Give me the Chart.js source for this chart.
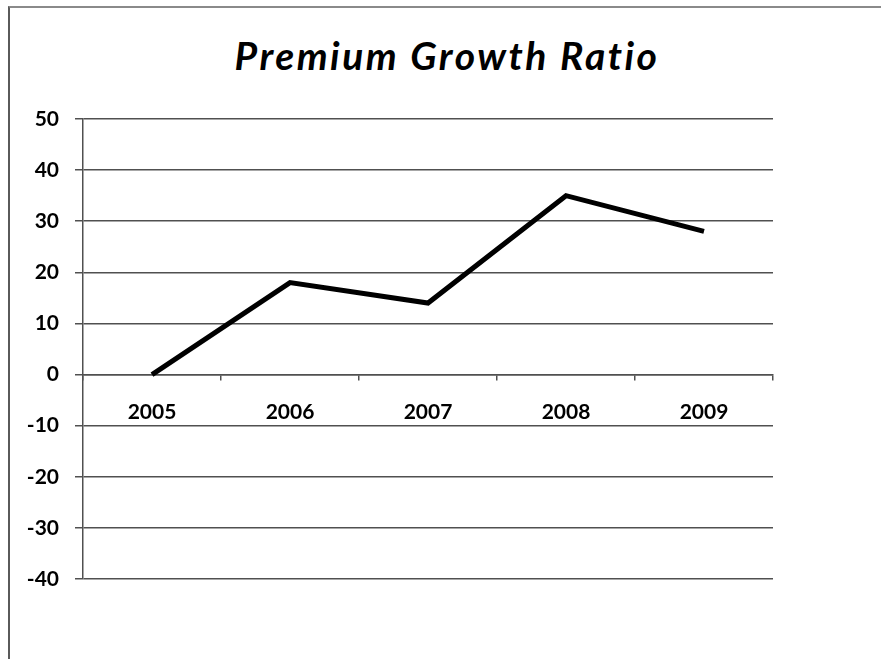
<!DOCTYPE html>
<html>
<head>
<meta charset="utf-8">
<script src="https://cdn.jsdelivr.net/npm/chart.js@4/dist/chart.umd.min.js"></script>
<style>
    body { margin: 0; background: #fff; }
    #frame {
        position: absolute; left: 8px; top: 6px; width: 900px; height: 700px;
        border-left: 2px solid #5a5a5a; border-top: 2px solid #8a8a8a;
    }
    #title {
        position: absolute; left: 0; top: 32px; width: 894px; text-align: center;
        font: italic bold 39px Lato, sans-serif; letter-spacing: 2.5px;
        color: #000; line-height: 46px;
    }
    canvas { position: absolute; left: 0; top: 0; }
</style>
</head>
<body>
<div id="frame"></div>
<div id="title">Premium Growth Ratio</div>
<canvas id="myChart" width="881" height="659"></canvas>
<script>
// años y tasa de crecimiento de primas (%)
const years = ['2005', '2006', '2007', '2008', '2009'];
const growth = [0, 18, 14, 35, 28];
const yMin = -40;
const yMax = 50;
const yStep = 10;

const gridColor = '#505050';
const tickFont = { family: 'Lato', size: 21, weight: 'bold' };

const ctx = document.getElementById('myChart').getContext('2d');
const growthChart = new Chart(ctx, {
    type: 'line',
    data: {
        labels: years,
        datasets: [{
            label: 'Premium Growth Ratio',
            data: growth,
            borderColor: '#000',
            borderWidth: 5,
            borderJoinStyle: 'miter',
            pointRadius: 0,
            tension: 0,
            fill: false
        }]
    },
    options: {
        responsive: false,
        animation: false,
        layout: {
            padding: { top: 119, right: 108, bottom: 80, left: 0 }
        },
        scales: {
            x: {
                position: { y: 0 },
                offset: true,
                grid: {
                    offset: true,
                    drawOnChartArea: false,
                    drawTicks: true,
                    tickLength: 5,
                    color: gridColor,
                    lineWidth: 1.5
                },
                border: { display: true, color: gridColor, width: 1.5 },
                ticks: { color: '#000', font: tickFont, padding: 20, maxRotation: 0 }
            },
            y: {
                min: yMin,
                max: yMax,
                afterFit: scale => { scale.width = 83; },
                grid: {
                    color: gridColor,
                    lineWidth: 1.5,
                    tickLength: 8
                },
                border: { display: true, color: gridColor, width: 1.5 },
                ticks: { stepSize: yStep, color: '#000', font: tickFont, padding: 16 }
            }
        },
        plugins: {
            legend: { display: false },
            tooltip: { enabled: false },
            title: { display: false }
        }
    }
});
</script>
</body>
</html>
